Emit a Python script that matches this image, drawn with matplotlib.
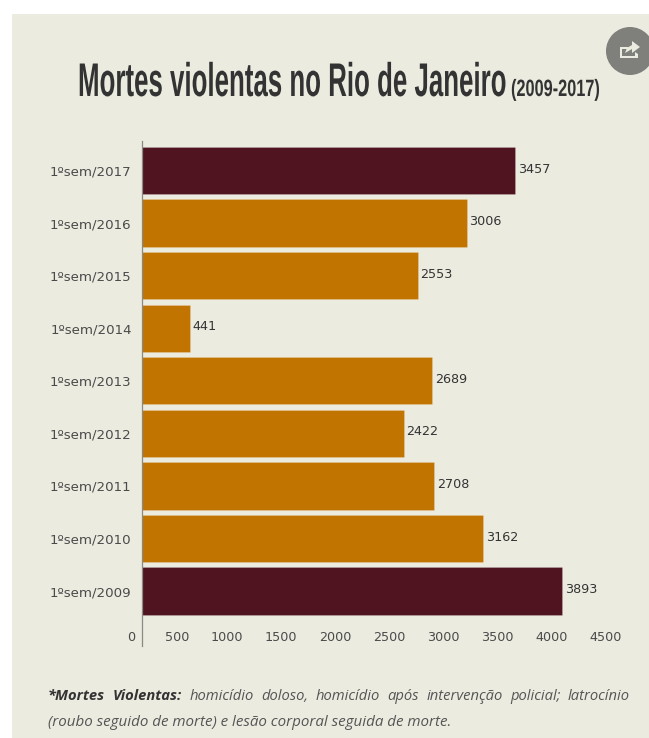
import matplotlib
matplotlib.use("Agg")
import matplotlib.pyplot as plt
from matplotlib.patches import Circle, Rectangle, Polygon
from matplotlib.patheffects import AbstractPathEffect
from matplotlib.transforms import Affine2D, Bbox, offset_copy

W, H = 649, 738

categories = ["1ºsem/2009", "1ºsem/2010", "1ºsem/2011", "1ºsem/2012", "1ºsem/2013",
              "1ºsem/2014", "1ºsem/2015", "1ºsem/2016", "1ºsem/2017"]
values = [3893, 3162, 2708, 2422, 2689, 441, 2553, 3006, 3457]
bar_colors = ["#4f1420", "#c17400", "#c17400", "#c17400", "#c17400",
              "#c17400", "#c17400", "#c17400", "#4f1420"]
x_ticks = [0, 500, 1000, 1500, 2000, 2500, 3000, 3500, 4000, 4500]

TEXT = "#4a4a4a"
FONT = "DejaVu Sans"
TITLE_FONT = "Liberation Sans"


def fx(px):
    return px / W


def fy(py):
    return 1 - py / H


# no condensed face installed, so squeeze the glyphs horizontally
class Squeeze(AbstractPathEffect):
    def __init__(self, sx):
        super().__init__()
        self.sx = sx

    def draw_path(self, renderer, gc, tpath, affine, rgbFace=None):
        renderer.draw_path(gc, tpath, Affine2D().scale(self.sx, 1) + affine, rgbFace)


def narrow_text(t, px_width, renderer):
    full = t.get_window_extent(renderer)
    sx = px_width / full.width
    t.set_path_effects([Squeeze(sx)])
    original = t.get_window_extent

    def extent(renderer=None, dpi=None):
        b = original(renderer, dpi)
        return Bbox.from_extents(b.x0, b.y0, b.x0 + b.width * sx, b.y1)

    t.get_window_extent = extent


fig = plt.figure(figsize=(W / 100, H / 100), dpi=100, facecolor="white")
renderer = fig.canvas.get_renderer()

# panel behind everything
fig.patches.append(Rectangle((fx(12), 0), fx(637), fy(14), transform=fig.transFigure,
                             facecolor="#ecebe0", edgecolor="none", zorder=-5))

# axes spans the visible axis line, 141 to 646 px
ax = fig.add_axes([fx(142), fy(646), fx(486), (646 - 141) / H])
ax.patch.set_alpha(0)
ax.barh(range(len(values)), values, height=0.9, color=bar_colors,
        edgecolor="#ffffff30", linewidth=0.6)
ax.set_xlim(0, 4500)
ax.set_ylim(-1.044, 8.56)

for i, v in enumerate(values):
    ax.annotate(str(v), (v, i), xytext=(2, 1), textcoords="offset points", va="center",
                ha="left", fontsize=9.2, color="#333333", family=FONT)

ax.set_yticks(range(len(categories)))
ax.set_yticklabels(categories, fontsize=9.6, color=TEXT, family=FONT)
ax.set_xticks(x_ticks)
ax.set_xticklabels([str(t) for t in x_ticks], fontsize=9.2, color=TEXT, family=FONT)
ax.tick_params(axis="y", length=0, pad=7.5)
ax.tick_params(axis="x", length=0, pad=-11)
for lab in ax.get_xticklabels():
    lab.set_ha("right")
    lab.set_transform(offset_copy(lab.get_transform(), fig=fig, x=-6.5, y=0, units="dots"))

for s in ["top", "right", "bottom"]:
    ax.spines[s].set_visible(False)
ax.spines["left"].set_color("#8a8a84")
ax.spines["left"].set_linewidth(0.9)

# title
title = fig.text(fx(78), fy(96), "Mortes violentas no Rio de Janeiro", fontsize=34, color="#333333",
                 family=TITLE_FONT, weight="bold", va="baseline")
narrow_text(title, 429, renderer)
years = fig.text(fx(511), fy(96), "(2009-2017)", fontsize=17, color="#333333",
                 family=TITLE_FONT, weight="bold", va="baseline")
narrow_text(years, 89, renderer)

# share button, cut off by the image edge
fig.patches.append(Circle((630, H - 51), 24, transform=None, facecolor="#7f7f7b", edgecolor="none"))
fig.patches.append(Polygon([(620, H - 47), (628, H - 47), (628, H - 49), (622, H - 49), (622, H - 56),
                            (635, H - 56), (635, H - 52), (638, H - 54), (638, H - 58), (620, H - 58)],
                           closed=True, transform=None, facecolor="#ecebe0", edgecolor="none"))
fig.patches.append(Polygon([(625, H - 53), (627, H - 48), (632, H - 45), (632, H - 41), (640, H - 47),
                            (632, H - 53), (632, H - 49)], closed=True, transform=None,
                           facecolor="#ecebe0", edgecolor="none"))

# footnote, first line is justified between 48 and 630 px
line1 = [("*Mortes", True), ("Violentas:", True), ("homicídio", False), ("doloso,", False),
         ("homicídio", False), ("após", False), ("intervenção", False), ("policial;", False),
         ("latrocínio", False)]
pieces = []
for word, bold in line1:
    t = fig.text(0, fy(700), word, fontsize=10.6, style="italic", family="Open Sans",
                 weight="bold" if bold else "normal", color="#333333" if bold else "#555555",
                 va="baseline")
    pieces.append((t, t.get_window_extent(renderer).width))
gap = (630 - 48 - sum(w for _, w in pieces)) / (len(pieces) - 1)
x = 48
for t, w in pieces:
    t.set_x(fx(x))
    x += w + gap

fig.text(fx(48), fy(726), "(roubo seguido de morte) e lesão corporal seguida de morte.", fontsize=10.9,
         style="italic", family="Open Sans", color="#555555", va="baseline")

fig.savefig("out.png", dpi=100, facecolor="white")
